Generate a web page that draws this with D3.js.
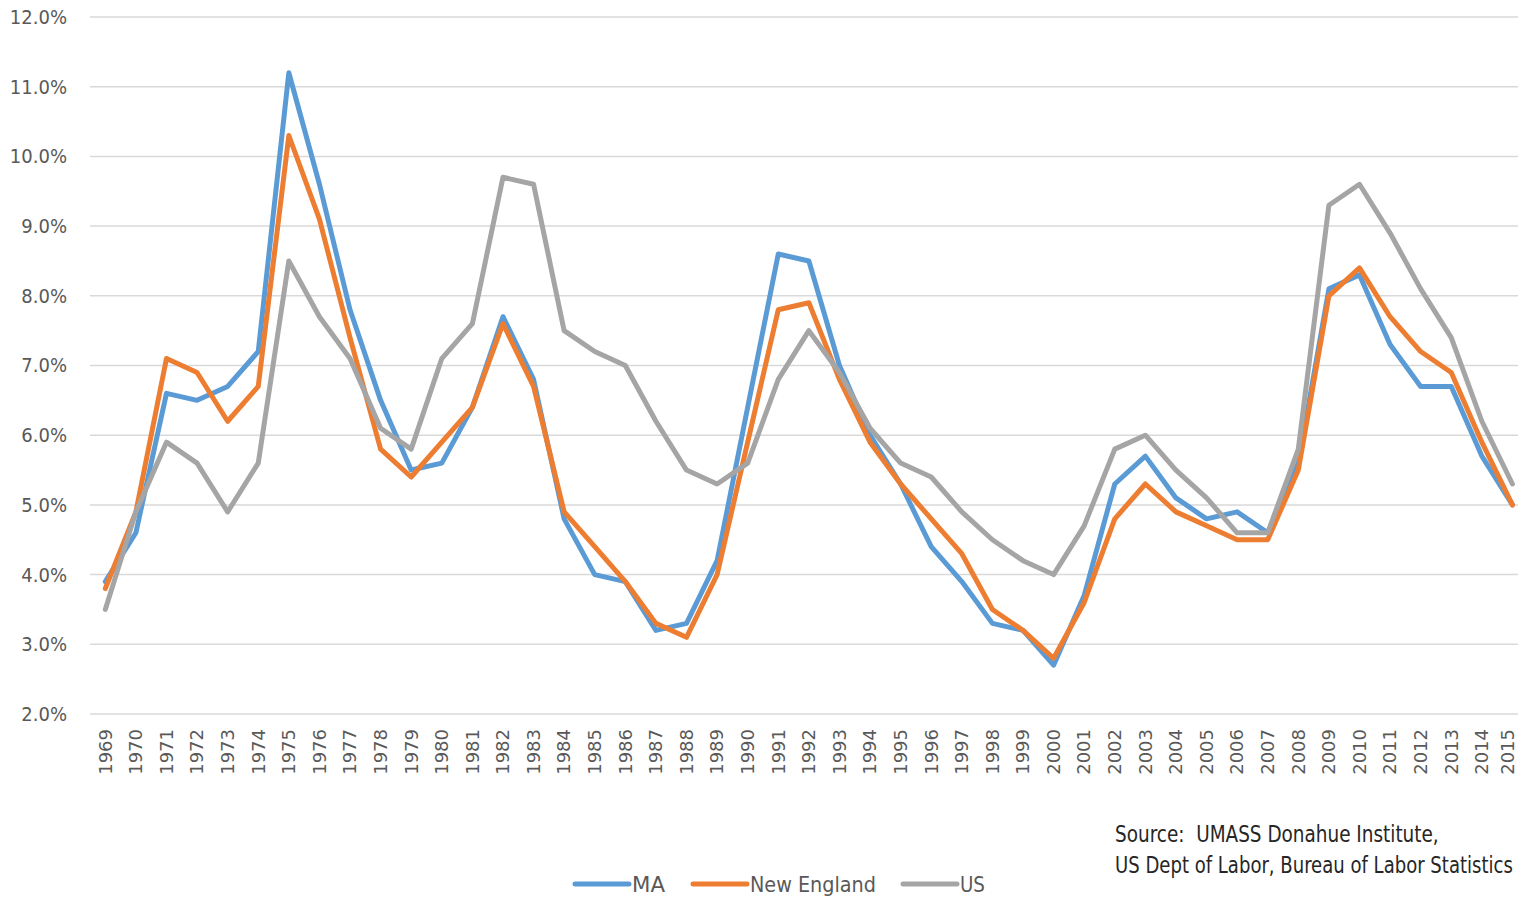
<!DOCTYPE html>
<html>
<head>
<meta charset="utf-8">
<script src="https://cdn.jsdelivr.net/npm/d3@7"></script>
<style>
  html, body { margin: 0; padding: 0; background: #ffffff; overflow: hidden; }
  svg { display: block; }
</style>
</head>
<body>
<svg id="chart" width="1518" height="897"></svg>
<script>
// ---- DATA ----
const years = [1969,1970,1971,1972,1973,1974,1975,1976,1977,1978,1979,1980,1981,1982,1983,1984,1985,1986,1987,1988,1989,1990,1991,1992,1993,1994,1995,1996,1997,1998,1999,2000,2001,2002,2003,2004,2005,2006,2007,2008,2009,2010,2011,2012,2013,2014,2015];
const maValues = [3.9,4.6,6.6,6.5,6.7,7.2,11.2,9.6,7.8,6.5,5.5,5.6,6.4,7.7,6.8,4.8,4.0,3.9,3.2,3.3,4.2,6.4,8.6,8.5,7.0,6.0,5.3,4.4,3.9,3.3,3.2,2.7,3.7,5.3,5.7,5.1,4.8,4.9,4.6,5.6,8.1,8.3,7.3,6.7,6.7,5.7,5.0];
const neValues = [3.8,4.9,7.1,6.9,6.2,6.7,10.3,9.1,7.4,5.8,5.4,5.9,6.4,7.6,6.7,4.9,4.4,3.9,3.3,3.1,4.0,5.9,7.8,7.9,6.8,5.9,5.3,4.8,4.3,3.5,3.2,2.8,3.6,4.8,5.3,4.9,4.7,4.5,4.5,5.5,8.0,8.4,7.7,7.2,6.9,5.9,5.0];
const usValues = [3.5,4.9,5.9,5.6,4.9,5.6,8.5,7.7,7.1,6.1,5.8,7.1,7.6,9.7,9.6,7.5,7.2,7.0,6.2,5.5,5.3,5.6,6.8,7.5,6.9,6.1,5.6,5.4,4.9,4.5,4.2,4.0,4.7,5.8,6.0,5.5,5.1,4.6,4.6,5.8,9.3,9.6,8.9,8.1,7.4,6.2,5.3];
const seriesNames = ["MA", "New England", "US"];
const yTicks = [2,3,4,5,6,7,8,9,10,11,12];
const sourceLines = ["Source:  UMASS Donahue Institute,", "US Dept of Labor, Bureau of Labor Statistics"];

const seriesColors = ["#5B9BD5", "#ED7D31", "#A5A5A5"];
const seriesData = [maValues, neValues, usValues];

// ---- LAYOUT ----
const svg = d3.select("#chart");
const left = 90, bandW = 30.59;
const x = d3.scaleBand().domain(years).range([left, left + bandW * years.length]);
const y = d3.scaleLinear().domain([2, 12]).range([714, 17]);
const xc = d => x(d) + x.bandwidth() / 2;
const narrow = "'DejaVu Sans Condensed', 'Liberation Sans', sans-serif";

// horizontally squeeze a text element (anchored at its x) to a target width
function squeeze(sel, widths, x0s, y0s) {
  sel.each(function (d, i) {
    const w = this.getComputedTextLength();
    const s = widths[i] / w;
    d3.select(this).attr("x", 0).attr("y", 0)
      .attr("transform", `translate(${x0s[i]},${y0s[i]}) scale(${s},1)`);
  });
}

// gridlines
svg.append("g").selectAll("line").data(yTicks).join("line")
  .attr("x1", left).attr("x2", 1518)
  .attr("y1", d => y(d)).attr("y2", d => y(d))
  .attr("stroke", "#D9D9D9").attr("stroke-width", 1.5);

// y labels
const yAxis = d3.axisLeft(y).tickValues(yTicks).tickFormat(d => d.toFixed(1) + "%").tickSize(0).tickPadding(0);
const gy = svg.append("g").attr("transform", "translate(67,0)").call(yAxis);
gy.select(".domain").remove();
gy.selectAll("text")
  .attr("fill", "#595959")
  .style("font-family", narrow)
  .style("font-size", "20px");

// x labels
const xAxis = d3.axisBottom(x).tickSize(0).tickPadding(0);
const gx = svg.append("g").attr("transform", "translate(0,714)").call(xAxis);
gx.select(".domain").remove();
const lastYear = years[years.length - 1];
gx.selectAll("text")
  .attr("fill", "#595959")
  .attr("transform", "rotate(-90)")
  .attr("text-anchor", "end")
  .attr("x", -15)
  .attr("y", d => d === lastYear ? -5 : 0)
  .attr("dy", "0.35em")
  .style("font-family", "'DejaVu Sans', sans-serif")
  .style("font-size", "18px");

// lines
const line = d3.line().x((d, i) => xc(years[i])).y(d => y(d));
svg.append("g").selectAll("path").data(seriesData).join("path")
  .attr("d", d => line(d))
  .attr("fill", "none")
  .attr("stroke", (d, i) => seriesColors[i])
  .attr("stroke-width", 5)
  .attr("stroke-linejoin", "round")
  .attr("stroke-linecap", "round");

// legend
const legendX = [574, 692, 902];
const legendW = [33, 126, 25];
const lg = svg.append("g").selectAll("g").data(seriesNames).join("g")
  .attr("transform", (d, i) => `translate(${legendX[i]},884)`);
lg.append("line").attr("x1", 1).attr("x2", 55).attr("y1", 0).attr("y2", 0)
  .attr("stroke", (d, i) => seriesColors[i]).attr("stroke-width", 5).attr("stroke-linecap", "round");
const lgText = lg.append("text").attr("dy", "0.35em")
  .attr("fill", "#595959")
  .style("font-family", narrow)
  .style("font-size", "22px")
  .text(d => d);
squeeze(lgText, legendW, [58, 58, 58], [0, 0, 0]);

// source
const sourceW = [324, 398];
const srcText = svg.append("g").selectAll("text").data(sourceLines).join("text")
  .attr("fill", "#262626")
  .style("white-space", "pre")
  .style("font-family", narrow)
  .style("font-size", "23px")
  .text(d => d);
squeeze(srcText, sourceW, [1115, 1115], [842, 873]);
</script>
</body>
</html>
